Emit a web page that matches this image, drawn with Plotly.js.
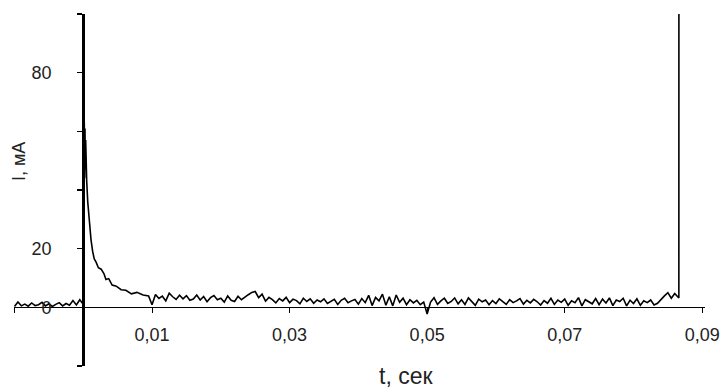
<!DOCTYPE html>
<html>
<head>
<meta charset="utf-8">
<script src="https://cdn.plot.ly/plotly-3.0.1.min.js"></script>
<style>html,body{margin:0;padding:0;background:#fff;}#chart{width:722px;height:388px;}</style>
</head>
<body>
<div id="chart"></div>
<script>
// Time (s) and current (mA)
var tPre = [-0.0100,-0.0095,-0.0090,-0.0085,-0.0080,-0.0075,-0.0070,-0.0065,-0.0060,-0.0055,
            -0.0050,-0.0045,-0.0040,-0.0035,-0.0030,-0.0025,-0.0020,-0.0015,-0.0010,-0.0005];
var iPre = [0.3,1.8,0.5,1.1,0.4,1.5,0.6,0.9,1.7,0.5,1.2,0.3,1.0,1.6,0.5,1.3,0.7,2.3,0.8,2.6];

var tSpike = [0.0000,0.00005,0.0001,0.00015,0.0002,0.00025,0.0003,0.00035,0.0004,0.00045,
              0.0005,0.00065,0.00088,0.00113,0.00137,0.0016,0.00185,0.0022,0.0026,0.0030,
              0.0033,0.0037,0.0042,0.0048,0.0055,0.0062,0.0070,0.0078,0.0087,0.0095];
var iSpike = [1.0,66,46,63,44,61,47,57,44,49,
              43,36,29,23,19,16.5,15.5,13.5,13,11.5,
              9.5,9.8,7.6,7.2,6.0,5.8,4.6,5.1,4.2,3.9];

var tBase = [
 0.0100,0.0105,0.0110,0.0115,0.0120,0.0125,0.0130,0.0135,0.0140,0.0145,
 0.0150,0.0155,0.0160,0.0165,0.0170,0.0175,0.0180,0.0185,0.0190,0.0195,
 0.0200,0.0205,0.0210,0.0215,0.0220,0.0225,0.0230,0.0235,0.0240,0.0245,
 0.0250,0.0255,0.0260,0.0265,0.0270,0.0275,0.0280,0.0285,0.0290,0.0295,
 0.0300,0.0305,0.0310,0.0315,0.0320,0.0325,0.0330,0.0335,0.0340,0.0345,
 0.0350,0.0355,0.0360,0.0365,0.0370,0.0375,0.0380,0.0385,0.0390,0.0395,
 0.0400,0.0405,0.0410,0.0415,0.0420,0.0425,0.0430,0.0435,0.0440,0.0445,
 0.0450,0.0455,0.0460,0.0465,0.0470,0.0475,0.0480,0.0485,0.0490,0.0495,
 0.0500,0.0505,0.0510,0.0515,0.0520,0.0525,0.0530,0.0535,0.0540,0.0545,
 0.0550,0.0555,0.0560,0.0565,0.0570,0.0575,0.0580,0.0585,0.0590,0.0595,
 0.0600,0.0605,0.0610,0.0615,0.0620,0.0625,0.0630,0.0635,0.0640,0.0645,
 0.0650,0.0655,0.0660,0.0665,0.0670,0.0675,0.0680,0.0685,0.0690,0.0695,
 0.0700,0.0705,0.0710,0.0715,0.0720,0.0725,0.0730,0.0735,0.0740,0.0745,
 0.0750,0.0755,0.0760,0.0765,0.0770,0.0775,0.0780,0.0785,0.0790,0.0795,
 0.0800,0.0805,0.0810,0.0815,0.0820,0.0825,0.0830,0.0835,0.0840,0.0845,
 0.0850,0.0855,0.0860,0.0865];
var iBase = [
 0.9,4.4,3.0,3.8,2.2,4.8,3.6,2.7,4.1,2.9,
 4.0,2.4,2.8,4.2,2.5,3.7,1.9,3.3,4.0,2.6,
 3.1,1.8,3.9,2.4,2.0,3.8,2.6,3.3,4.3,5.1,
 5.4,3.3,4.5,2.1,3.4,2.6,1.5,3.0,2.2,3.4,
 1.6,2.8,2.3,1.2,3.1,2.0,2.9,1.4,2.5,1.9,
 2.9,1.3,2.0,2.7,1.0,2.4,3.1,1.6,2.2,2.7,
 1.1,3.0,1.6,4.1,0.6,3.4,2.2,4.5,0.7,3.6,
 0.5,4.2,1.7,3.1,0.9,2.6,1.5,2.4,0.9,1.8,
 -2.3,1.8,3.3,1.0,2.2,3.1,1.3,2.0,3.2,1.2,
 2.6,1.0,3.2,2.1,0.7,2.8,1.9,2.5,0.9,2.3,
 1.3,2.9,2.0,1.0,2.6,1.6,2.2,3.0,1.1,2.4,
 1.5,2.7,1.9,0.8,2.3,1.4,3.1,1.0,2.5,1.7,
 2.8,0.7,2.2,1.6,3.3,0.5,2.6,1.8,1.2,3.0,
 0.9,2.8,1.5,3.2,0.6,2.5,2.0,3.1,0.5,2.4,
 1.3,2.9,0.7,2.2,1.6,2.5,0.8,1.4,2.8,3.9,
 5.0,3.1,4.7,3.3];

var tEnd = [0.0866, 0.08661];
var iEnd = [3.2, 160];

var xTickVals = [-0.01, 0.01, 0.03, 0.05, 0.07, 0.09];
var xTickText = ['', '0,01', '0,03', '0,05', '0,07', '0,09'];
var yTickVals = [-20, 0, 20, 40, 60, 80, 100];
var yTickText = ['', '0', '20', '', '', '80', ''];

var xTitle = 't, сек';
var yTitle = 'I, мА';

var t = tPre.concat(tSpike, tBase, tEnd);
var cur = iPre.concat(iSpike, iBase, iEnd);

var tickFont = {family: 'Liberation Sans, Arial, sans-serif', size: 18, color: '#222'};

Plotly.newPlot('chart', [{
  x: t, y: cur, type: 'scatter', mode: 'lines',
  line: {color: '#000', width: 1.6}, hoverinfo: 'x+y', showlegend: false
}], {
  width: 722, height: 388,
  margin: {l: 14, r: 17, t: 14, b: 22, pad: 0},
  paper_bgcolor: '#fff', plot_bgcolor: '#fff',
  showlegend: false,
  xaxis: {
    range: [-0.01007, 0.0904], anchor: 'free', position: 0.16667,
    showgrid: false, zeroline: false, showline: true, linecolor: '#000', linewidth: 1,
    ticks: 'outside', ticklen: 5, tickwidth: 1, tickcolor: '#000',
    tickmode: 'array', tickvals: xTickVals, ticktext: xTickText,
    tickfont: tickFont, ticklabelstandoff: 6
  },
  yaxis: {
    range: [-20, 100], anchor: 'free', position: 0.1002,
    showgrid: false, zeroline: false, showline: true, linecolor: '#000', linewidth: 3,
    ticks: 'outside', ticklen: 5, tickwidth: 1.5, tickcolor: '#000',
    tickmode: 'array', tickvals: yTickVals, ticktext: yTickText,
    tickfont: tickFont, ticklabelstandoff: 22
  },
  annotations: [
    {text: xTitle, xref: 'paper', yref: 'paper', x: 0.567, y: -0.0284,
     xanchor: 'center', yanchor: 'middle', showarrow: false,
     font: {family: 'Liberation Sans, Arial, sans-serif', size: 23, color: '#222'}},
    {text: yTitle, xref: 'paper', yref: 'paper', x: 0.0072, y: 0.582,
     xanchor: 'center', yanchor: 'middle', showarrow: false, textangle: -90,
     font: {family: 'Liberation Sans, Arial, sans-serif', size: 18, color: '#222'}}
  ]
}, {displayModeBar: false, staticPlot: true});
</script>
</body>
</html>
